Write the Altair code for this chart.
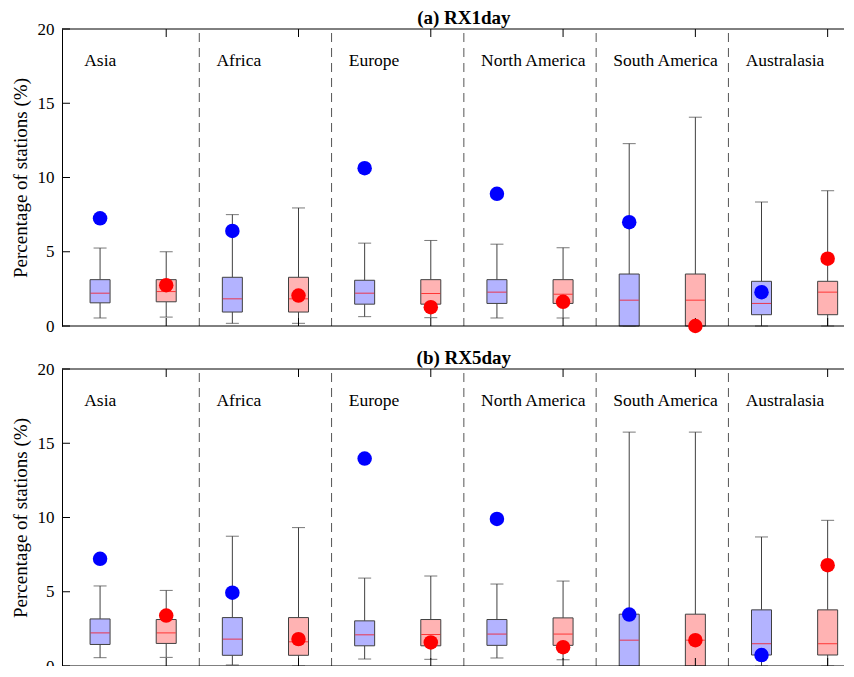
import altair as alt
import pandas as pd

regions = ["Asia", "Africa", "Europe", "North America", "South America", "Australasia"]

# Panel (a) RX1day
a_blue_hi = [5.25, 7.5, 5.58, 5.51, 12.28, 8.35]
a_blue_q3 = [3.12, 3.28, 3.08, 3.12, 3.5, 3.01]
a_blue_med = [2.21, 1.83, 2.21, 2.28, 1.74, 1.52]
a_blue_q1 = [1.56, 0.94, 1.47, 1.52, 0.0, 0.76]
a_blue_lo = [0.54, 0.18, 0.63, 0.54, 0.0, 0.0]
a_blue_dot = [7.25, 6.4, 10.63, 8.9, 6.99, 2.28]

a_red_hi = [5.0, 7.95, 5.76, 5.27, 14.06, 9.11]
a_red_q3 = [3.12, 3.28, 3.12, 3.12, 3.5, 3.01]
a_red_med = [2.32, 1.83, 2.19, 2.14, 1.74, 2.28]
a_red_q1 = [1.63, 0.94, 1.47, 1.52, 0.0, 0.76]
a_red_lo = [0.6, 0.18, 0.56, 0.54, 0.0, 0.0]
a_red_dot = [2.75, 2.05, 1.27, 1.63, 0.0, 4.53]

# Panel (b) RX5day
b_blue_hi = [5.39, 8.74, 5.92, 5.52, 15.75, 8.69]
b_blue_q3 = [3.17, 3.26, 3.04, 3.13, 3.49, 3.78]
b_blue_med = [2.23, 1.81, 2.1, 2.15, 1.74, 1.5]
b_blue_q1 = [1.45, 0.72, 1.36, 1.39, 0.0, 0.74]
b_blue_lo = [0.56, 0.07, 0.47, 0.54, 0.0, 0.0]
b_blue_dot = [7.22, 4.94, 13.97, 9.9, 3.46, 0.74]

b_red_hi = [5.09, 9.32, 6.06, 5.72, 15.75, 9.81]
b_red_q3 = [3.13, 3.26, 3.13, 3.24, 3.49, 3.78]
b_red_med = [2.23, 1.63, 2.12, 2.15, 1.74, 1.5]
b_red_q1 = [1.52, 0.72, 1.36, 1.39, 0.0, 0.74]
b_red_lo = [0.58, 0.0, 0.45, 0.42, 0.0, 0.0]
b_red_dot = [3.4, 1.81, 1.59, 1.27, 1.74, 6.79]

titles = ["(a) RX1day", "(b) RX5day"]
y_ticks = [0, 5, 10, 15, 20]
x_ticks = [2, 4, 6, 8, 10, 12]
separators = [2.5, 4.5, 6.5, 8.5, 10.5]

PX_PER_UNIT = 67
W, H = 782, 297
FONT = "Liberation Serif"
BOX_FILL = {"blue": "#b3b3ff", "red": "#ffb3b3"}
DOT_COL = {"blue": "#0000ff", "red": "#ff0000"}
LINE = "#404040"


def make_df(group, offset, hi, q3, med, q1, lo, dot):
    return pd.DataFrame({
        "region": regions,
        "group": group,
        "pos": [2 * i + 1 + offset for i in range(len(regions))],
        "hi": hi, "q3": q3, "med": med, "q1": q1, "lo": lo, "dot": dot,
    })


xs = alt.Scale(domain=[0.5, 0.5 + W / PX_PER_UNIT], nice=False, zero=False)
ys = alt.Scale(domain=[0, 20], nice=False, zero=False)
yaxis = alt.Axis(values=y_ticks, ticks=False, grid=False, domain=True, domainColor="black",
                 labelPadding=8, title="Percentage of stations (%)", titlePadding=7)


def panel(df_blue, df_red, title):
    layers = []
    sep = pd.DataFrame({"s": separators})
    layers.append(alt.Chart(sep).mark_rule(color="#555555", strokeDash=[9, 6], strokeDashOffset=-4,
                                           strokeWidth=1).encode(
        x=alt.X("s:Q", scale=xs, axis=None), y=alt.value(0), y2=alt.value(H)))
    for grp, df in (("blue", df_blue), ("red", df_red)):
        base = alt.Chart(df)
        X = alt.X("pos:Q", scale=xs, axis=None)
        layers.append(base.mark_rule(color=LINE, strokeWidth=1).encode(
            x=X, y=alt.Y("q3:Q", scale=ys, axis=yaxis), y2="hi:Q"))
        layers.append(base.mark_rule(color=LINE, strokeWidth=1).encode(
            x=X, y=alt.Y("lo:Q", scale=ys, axis=yaxis), y2="q1:Q"))
        layers.append(base.mark_tick(orient="horizontal", color=LINE, size=13, thickness=1).encode(
            x=X, y=alt.Y("hi:Q", scale=ys, axis=yaxis)))
        layers.append(base.mark_tick(orient="horizontal", color=LINE, size=13, thickness=1).encode(
            x=X, y=alt.Y("lo:Q", scale=ys, axis=yaxis)))
        layers.append(base.mark_bar(size=20, color=BOX_FILL[grp], stroke=LINE, strokeWidth=1).encode(
            x=X, y=alt.Y("q1:Q", scale=ys, axis=yaxis), y2="q3:Q"))
        layers.append(base.mark_tick(orient="horizontal", color="#ff0000", size=19, thickness=1).encode(
            x=X, y=alt.Y("med:Q", scale=ys, axis=yaxis)))
    # frame lines (top / bottom) and inward ticks
    layers.append(alt.Chart(pd.DataFrame({"t": [0, 20]})).mark_rule(color="black").encode(
        y=alt.Y("t:Q", scale=ys, axis=yaxis), x=alt.value(0), x2=alt.value(W)))
    yt = pd.DataFrame({"t": y_ticks})
    layers.append(alt.Chart(yt).mark_rule(color="black").encode(
        y=alt.Y("t:Q", scale=ys, axis=yaxis), x=alt.value(0), x2=alt.value(8)))
    xt = pd.DataFrame({"t": x_ticks})
    layers.append(alt.Chart(xt).mark_rule(color="black").encode(
        x=alt.X("t:Q", scale=xs, axis=None), y=alt.value(0), y2=alt.value(8)))
    layers.append(alt.Chart(xt).mark_rule(color="black").encode(
        x=alt.X("t:Q", scale=xs, axis=None), y=alt.value(H - 8), y2=alt.value(H)))
    for grp, df in (("blue", df_blue), ("red", df_red)):
        layers.append(alt.Chart(df).mark_circle(size=210, opacity=1, color=DOT_COL[grp]).encode(
            x=alt.X("pos:Q", scale=xs, axis=None), y=alt.Y("dot:Q", scale=ys, axis=yaxis)))
    lab = pd.DataFrame({"region": regions, "lx": [2 * i + 0.76 for i in range(len(regions))],
                        "ly": [17.5] * len(regions)})
    layers.append(alt.Chart(lab).mark_text(align="left", baseline="alphabetic", font=FONT,
                                           fontSize=17.5, color="black").encode(
        x=alt.X("lx:Q", scale=xs, axis=None), y=alt.Y("ly:Q", scale=ys, axis=yaxis), text="region:N"))
    tdf = pd.DataFrame({"title": [title], "tx": [6.5]})
    layers.append(alt.Chart(tdf).mark_text(align="center", baseline="alphabetic", font=FONT,
                                           fontSize=19, fontWeight="bold", color="black").encode(
        x=alt.X("tx:Q", scale=xs, axis=None), y=alt.value(-5), text="title:N"))
    return alt.layer(*layers).properties(width=W, height=H)


pa = panel(make_df("blue", 0, a_blue_hi, a_blue_q3, a_blue_med, a_blue_q1, a_blue_lo, a_blue_dot),
           make_df("red", 1, a_red_hi, a_red_q3, a_red_med, a_red_q1, a_red_lo, a_red_dot),
           titles[0])
pb = panel(make_df("blue", 0, b_blue_hi, b_blue_q3, b_blue_med, b_blue_q1, b_blue_lo, b_blue_dot),
           make_df("red", 1, b_red_hi, b_red_q3, b_red_med, b_red_q1, b_red_lo, b_red_dot),
           titles[1])

chart = alt.vconcat(pa, pb, spacing=15).properties(
    padding={"left": 3, "top": 1, "right": 0, "bottom": -8}, background="white"
).configure_view(stroke=None).configure_axis(
    labelFont=FONT, labelFontSize=17, labelColor="black", titleFont=FONT, titleFontSize=19,
    titleColor="black", titleFontWeight="normal")

chart.save("out.html", embed_options={"renderer": "svg", "actions": False})
